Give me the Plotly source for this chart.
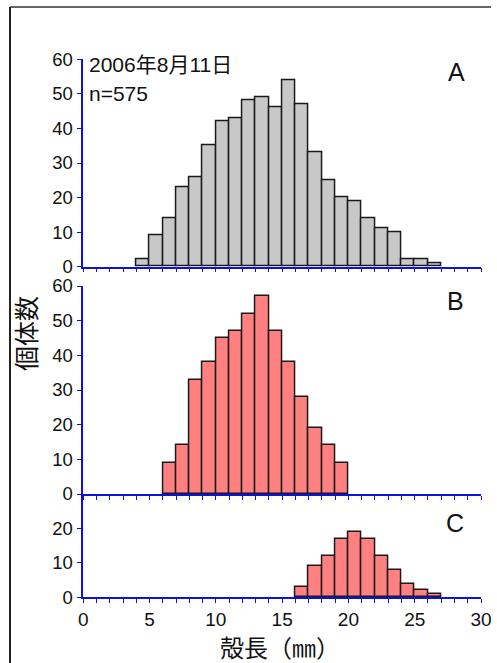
import plotly.graph_objects as go

# ---- data ----
bins_A = list(range(4, 27))
counts_A = [2, 9, 14, 23, 26, 35, 42, 43, 48, 49, 46, 54, 47, 33, 25, 20, 19, 14, 11, 10, 2, 2, 1]
bins_B = list(range(6, 20))
counts_B = [9, 14, 33, 38, 45, 47, 52, 57, 47, 38, 28, 19, 14, 9]
bins_C = list(range(16, 27))
counts_C = [3, 9, 12, 17, 19, 17, 12, 8, 4, 2, 1]
x_ticks = [0, 5, 10, 15, 20, 25, 30]
panel_labels = ["A", "B", "C"]
date_text = "2006年8月11日"
n_text = "n=575"
y_title = "個体数"
x_title = "殻長（㎜）"

W, H = 497, 663
def px(x):
    return x / W
def py(y):
    return 1 - y / H

BLUE = "#1010e0"
FONT = "Liberation Sans, Arial, Noto Sans CJK JP"
JFONT = "Noto Sans CJK JP"

fig = go.Figure()
panels = [
    (bins_A, counts_A, "#c8c8c8", "x", "y"),
    (bins_B, counts_B, "#ff8080", "x2", "y2"),
    (bins_C, counts_C, "#ff8080", "x3", "y3"),
]
for b, c, col, xa, ya in panels:
    fig.add_trace(go.Bar(x=b, y=c, width=1, offset=0, xaxis=xa, yaxis=ya,
                         marker=dict(color=col, line=dict(color="#1a1a1a", width=1.5)),
                         showlegend=False, hoverinfo="skip"))

xdom = [px(83.3), px(481)]
ydoms = [[py(266.7), py(59.3)], [py(494), py(286)], [py(597.3), py(494)]]
yranges = [[0, 60], [0, 60], [0, 30]]
ytickvals = [[0, 10, 20, 30, 40, 50, 60], [0, 10, 20, 30, 40, 50, 60], [0, 10, 20]]

for i in range(3):
    sfx = "" if i == 0 else str(i + 1)
    fig.layout["xaxis" + sfx] = dict(
        domain=xdom, range=[0, 30], anchor="y" + sfx,
        showline=True, linecolor=BLUE, linewidth=1.5,
        tickvals=x_ticks, ticks="outside", ticklen=4, tickcolor=BLUE, tickwidth=1.2,
        minor=dict(dtick=1, ticks="outside", ticklen=4, tickcolor=BLUE, tickwidth=1.2),
        showticklabels=(i == 2), showgrid=False, zeroline=False, automargin=False,
        tickfont=dict(family=FONT, size=19, color="#111"),
    )
    fig.layout["yaxis" + sfx] = dict(
        domain=ydoms[i], range=yranges[i], anchor="x" + sfx,
        showline=True, linecolor=BLUE, linewidth=1.5,
        tickvals=ytickvals[i], ticks="outside", ticklen=5, tickcolor=BLUE, tickwidth=1.2,
        showgrid=False, zeroline=False, automargin=False,
        tickfont=dict(family=FONT, size=18.5, color="#111"),
    )

def note(text, x, y, size, family=FONT, xanchor="center", angle=0):
    return dict(text=text, x=px(x), y=py(y), xref="paper", yref="paper",
                xanchor=xanchor, yanchor="middle", textangle=angle, showarrow=False,
                font=dict(family=family, size=size, color="#111"))

ann = []
for lab, (x, y) in zip(panel_labels, [(456, 72), (455, 301), (455, 523)]):
    ann.append(note(lab, x, y, 25))
ann.append(note(date_text, 87, 65, 21, xanchor="left"))
ann.append(note(n_text, 87, 94, 21, xanchor="left"))
ann.append(note(y_title, 25, 334, 25, family=JFONT, angle=-90))
ann.append(note(x_title, 280, 646, 24, family=JFONT))

shapes = [
    dict(type="line", xref="paper", yref="paper", x0=px(10), x1=px(491), y0=py(7), y1=py(7),
         line=dict(color="#666666", width=2)),
    dict(type="line", xref="paper", yref="paper", x0=px(10), x1=px(10), y0=py(7), y1=0,
         line=dict(color="#222222", width=2)),
]

fig.update_layout(width=W, height=H, autosize=False, margin=dict(l=0, r=0, t=0, b=0, pad=0),
                  paper_bgcolor="white", plot_bgcolor="white", bargap=0,
                  annotations=ann, shapes=shapes)
fig.write_html("out.html", config={"displayModeBar": False},
               post_script="document.documentElement.style.margin='0';"
                           "document.body.style.margin='0';document.body.style.padding='0';"
                           "document.body.style.overflow='hidden';")
